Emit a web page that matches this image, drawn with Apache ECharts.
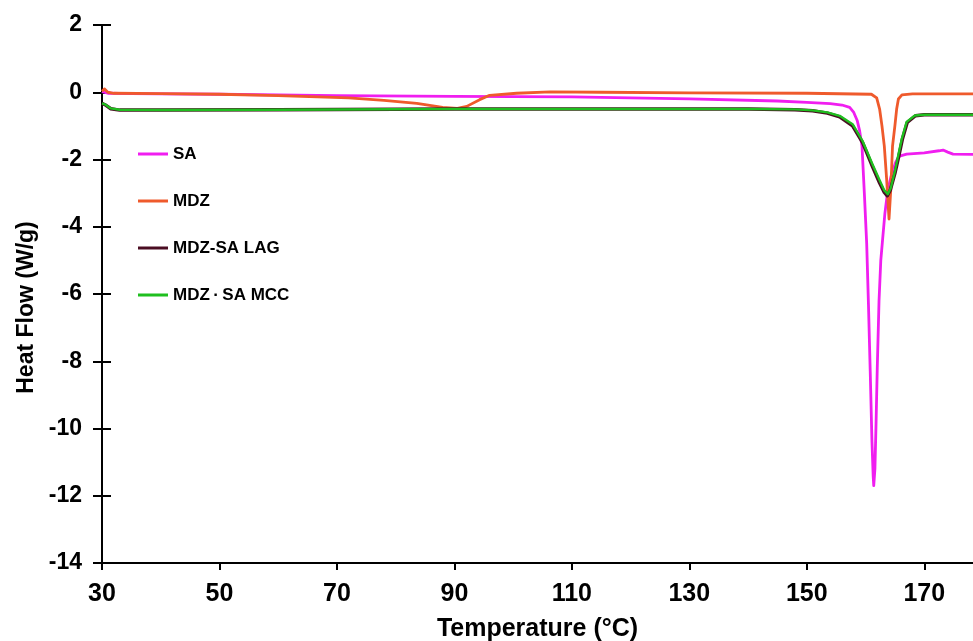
<!DOCTYPE html>
<html>
<head>
<meta charset="utf-8">
<script src="https://cdn.jsdelivr.net/npm/echarts@6/dist/echarts.min.js"></script>
<style>
  html, body { margin: 0; padding: 0; background: #fff; }
  #chart { width: 973px; height: 641px; }
</style>
</head>
<body>
<div id="chart"></div>
<script>
// [temperature, heat flow]
const saData = [
  [30, 0.02], [31, -0.03], [35, -0.04], [50, -0.06], [70, -0.1], [90, -0.12],
  [110, -0.14], [130, -0.2], [145, -0.26], [150, -0.3], [154, -0.34], [156, -0.38],
  [157.3, -0.45], [158.0, -0.6], [158.6, -0.85], [159.0, -1.15], [159.4, -1.6],
  [159.8, -3.0], [160.2, -4.5], [160.5, -6.3], [160.8, -8.3], [161.1, -10.4],
  [161.3, -11.4], [161.4, -11.7], [161.6, -11.2], [161.8, -9.8], [162.0, -8.2],
  [162.3, -6.2], [162.6, -5.0], [162.9, -4.4], [163.3, -3.6], [163.8, -2.9],
  [164.5, -2.4], [165.2, -2.05], [165.8, -1.9], [167, -1.84], [170, -1.8],
  [172.5, -1.74], [173.2, -1.72], [174, -1.78], [174.9, -1.84], [179, -1.85]
];
const mdzData = [
  [30, 0.03], [30.4, 0.1], [31, 0.0], [32, -0.03], [40, -0.04], [50, -0.06],
  [60, -0.1], [72, -0.17], [78, -0.24], [83.6, -0.33], [88, -0.45], [90.5, -0.48],
  [92.1, -0.42], [94.3, -0.22], [96, -0.09], [100.6, -0.03], [106.3, 0.01],
  [115, 0.0], [130, -0.02], [150, -0.03], [161, -0.06], [161.9, -0.17],
  [162.4, -0.5], [162.8, -1.0], [163.2, -1.6], [163.6, -2.6], [164.0, -3.77],
  [164.3, -2.9], [164.6, -1.6], [165.0, -1.0], [165.3, -0.5], [165.6, -0.2],
  [166.2, -0.08], [168, -0.05], [179, -0.05]
];
const lagData = [
  [30, -0.33], [30.5, -0.37], [31.5, -0.49], [33, -0.53], [40, -0.53], [60, -0.52],
  [90, -0.5], [120, -0.5], [140, -0.5], [148, -0.52], [151, -0.55], [153.5, -0.62],
  [155.6, -0.73], [157.8, -1.0], [159.5, -1.5], [161.2, -2.22], [162.4, -2.7],
  [163.2, -2.98], [163.7, -3.08], [164.2, -2.92], [165, -2.42], [165.7, -1.88],
  [166.3, -1.38], [167.1, -0.9], [168.5, -0.7], [170, -0.67], [179, -0.67]
];
const mccData = [
  [30, -0.33], [30.5, -0.36], [31.5, -0.48], [33, -0.52], [40, -0.53], [60, -0.52],
  [90, -0.5], [120, -0.5], [140, -0.5], [148, -0.51], [151, -0.54], [153.5, -0.6],
  [155.6, -0.7], [157.8, -0.95], [159.5, -1.45], [161.2, -2.15], [162.4, -2.62],
  [163.2, -2.92], [163.8, -3.03], [164.3, -2.85], [165, -2.35], [165.6, -1.85],
  [166.2, -1.37], [167, -0.88], [168.4, -0.69], [170, -0.67], [179, -0.67]
];
const seriesNames = ['SA', 'MDZ', 'MDZ-SA LAG', 'MDZ\u2009\u00b7\u2009SA MCC'];
const seriesColors = ['#f01ef0', '#ef5a2c', '#4a0d22', '#1fbf1f'];
const xTicks = [30, 50, 70, 90, 110, 130, 150, 170];

const font = "'Liberation Sans', Arial, sans-serif";

const chart = echarts.init(document.getElementById('chart'), null, { renderer: 'canvas' });

const allData = [saData, mdzData, lagData, mccData];
const widths = [2.8, 2.8, 3.4, 2.4];

const series = seriesNames.map((name, i) => ({
  name: name,
  type: 'line',
  data: allData[i],
  showSymbol: false,
  smooth: false,
  color: seriesColors[i],
  lineStyle: { width: widths[i], color: seriesColors[i], join: 'round' },
  clip: true
}));
// empty helper so the second y axis (inner tick halves) gets drawn
series.push({ name: 'ticks', type: 'line', yAxisIndex: 1, data: [], showSymbol: false });

chart.setOption({
  animation: false,
  backgroundColor: '#fff',
  grid: { left: 102, top: 25, right: 0, bottom: 78, outerBoundsMode: 'none', containLabel: false },
  legend: {
    orient: 'vertical',
    left: 138,
    top: 145,
    padding: 0,
    itemGap: 29,
    itemWidth: 30,
    itemHeight: 3,
    icon: 'rect',
    textStyle: { fontFamily: font, fontWeight: 'bold', fontSize: 17, color: '#000', lineHeight: 18 },
    data: seriesNames
  },
  xAxis: {
    type: 'value',
    min: 30,
    max: 178.3,
    interval: 20,
    name: 'Temperature (\u00b0C)',
    nameLocation: 'middle',
    nameGap: 54,
    nameTextStyle: { fontFamily: font, fontWeight: 'bold', fontSize: 25, color: '#000' },
    splitLine: { show: false },
    axisLine: { onZero: false, lineStyle: { color: '#000', width: 2 } },
    axisTick: { customValues: xTicks, length: 7, lineStyle: { color: '#000', width: 2 } },
    axisLabel: {
      customValues: xTicks,
      margin: 19,
      fontFamily: font, fontWeight: 'bold', fontSize: 25, color: '#000'
    }
  },
  yAxis: [{
    type: 'value',
    min: -14,
    max: 2,
    interval: 2,
    name: 'Heat Flow (W/g)',
    nameLocation: 'middle',
    nameGap: 64,
    nameTextStyle: { fontFamily: font, fontWeight: 'bold', fontSize: 23, color: '#000', padding: [0, 27, 0, 0] },
    splitLine: { show: false },
    axisLine: { show: true, onZero: false, lineStyle: { color: '#000', width: 2 } },
    axisTick: { show: true, length: 9, lineStyle: { color: '#000', width: 2 } },
    axisLabel: { margin: 20, fontFamily: font, fontWeight: 'bold', fontSize: 23, color: '#000' }
  }, {
    // inner half of the crossing tick marks
    type: 'value',
    position: 'left',
    offset: 0,
    min: -14,
    max: 2,
    interval: 2,
    splitLine: { show: false },
    axisLine: { show: true, onZero: false, lineStyle: { color: '#000', width: 2 } },
    axisTick: { show: true, inside: true, length: 9, lineStyle: { color: '#000', width: 2 } },
    axisLabel: { show: false }
  }],
  series: series
});
</script>
</body>
</html>
